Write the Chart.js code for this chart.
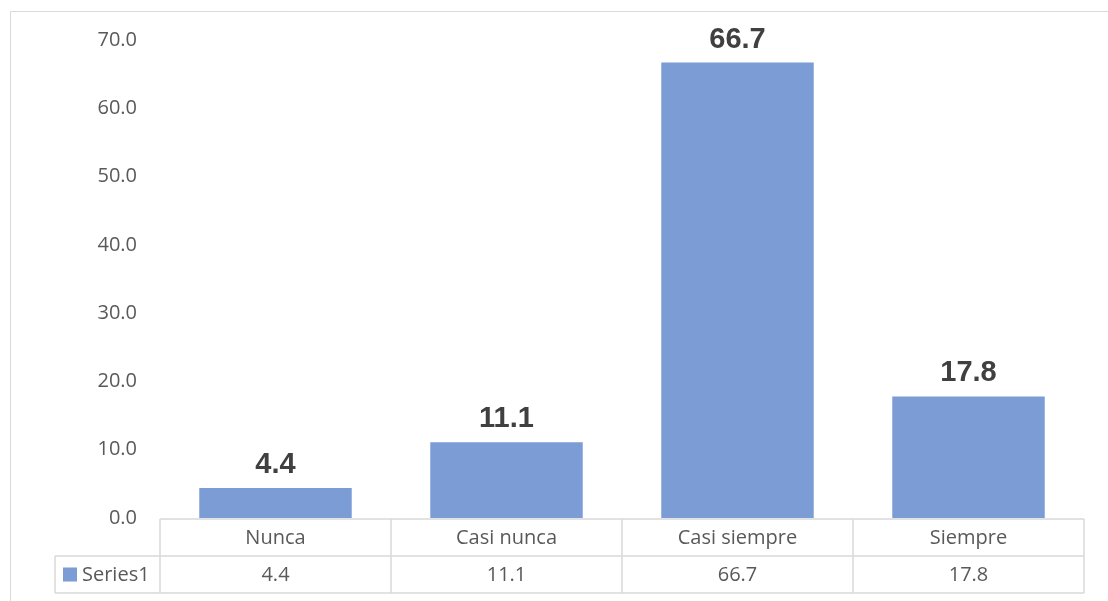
<!DOCTYPE html>
<html>
<head>
<meta charset="utf-8">
<script src="https://cdn.jsdelivr.net/npm/chart.js@4"></script>
<style>
  html, body { margin: 0; padding: 0; background: #fff; }
  #wrap { width: 1108px; height: 601px; position: relative; }
</style>
</head>
<body>
<div id="wrap"><canvas id="chart" width="1108" height="601"></canvas></div>
<script>
// chart data
var categories = ["Nunca", "Casi nunca", "Casi siempre", "Siempre"];
var seriesName = "Series1";
var seriesValues = [4.4, 11.1, 66.7, 17.8];
var yTicks = [0, 10, 20, 30, 40, 50, 60, 70];

var barColor = "#7B9CD5";
var lineColor = "#d9d9d9";
var textColor = "#595959";
var axisFont = "'Open Sans', 'Noto Sans', sans-serif";

// Outer frame + value labels + data table under the axis
var excelLook = {
  id: "excelLook",
  afterDraw: function (chart) {
    var ctx = chart.ctx;
    var area = chart.chartArea;
    var xs = chart.scales.x;
    var n = categories.length;
    var step = (area.right - area.left) / n;

    ctx.save();
    // Frame (top + left edges of the chart box)
    ctx.strokeStyle = lineColor;
    ctx.lineWidth = 1;
    ctx.beginPath();
    ctx.moveTo(10.5, chart.height);
    ctx.lineTo(10.5, 11.5);
    ctx.lineTo(chart.width, 11.5);
    ctx.stroke();

    // Value labels above the bars
    var meta = chart.getDatasetMeta(0);
    ctx.fillStyle = "#404040";
    ctx.font = "bold 29px 'Liberation Sans', Arial, sans-serif";
    ctx.textAlign = "center";
    ctx.textBaseline = "alphabetic";
    meta.data.forEach(function (bar, i) {
      ctx.fillText(seriesValues[i].toFixed(1), bar.x, bar.y - 15);
    });

    // Data table
    var top = area.bottom + 1;
    var mid = top + 37;
    var bottom = mid + 37;
    var legendLeft = 55;
    ctx.strokeStyle = lineColor;
    ctx.lineWidth = 1.5;
    ctx.beginPath();
    ctx.moveTo(area.left, top);
    ctx.lineTo(area.right, top);
    ctx.moveTo(legendLeft, mid);
    ctx.lineTo(area.right, mid);
    ctx.moveTo(legendLeft, bottom);
    ctx.lineTo(area.right, bottom);
    ctx.moveTo(legendLeft, mid);
    ctx.lineTo(legendLeft, bottom);
    for (var k = 0; k <= n; k++) {
      var lx = Math.round(area.left + step * k);
      ctx.moveTo(lx, top);
      ctx.lineTo(lx, bottom);
    }
    ctx.stroke();

    ctx.fillStyle = textColor;
    ctx.font = "20px " + axisFont;
    ctx.textAlign = "center";
    ctx.textBaseline = "middle";
    categories.forEach(function (c, i) {
      var cx = xs.getPixelForValue(i);
      ctx.fillText(c, cx, (top + mid) / 2 + 1);
      ctx.fillText(seriesValues[i].toFixed(1), cx, (mid + bottom) / 2 + 1);
    });

    // Legend key in the first cell
    var rowMid = (mid + bottom) / 2;
    ctx.fillStyle = barColor;
    ctx.fillRect(63, rowMid - 7, 14, 14);
    ctx.fillStyle = textColor;
    ctx.textAlign = "left";
    ctx.fillText(seriesName, 82, rowMid + 1);
    ctx.restore();
  }
};

new Chart(document.getElementById("chart"), {
  type: "bar",
  data: {
    labels: categories,
    datasets: [{
      label: seriesName,
      data: seriesValues,
      backgroundColor: barColor,
      borderWidth: 0,
      barPercentage: 0.66,
      categoryPercentage: 1.0
    }]
  },
  options: {
    responsive: false,
    animation: false,
    layout: { padding: { left: 10, right: 24, top: 40, bottom: 0 } },
    plugins: {
      legend: { display: false },
      tooltip: { enabled: false }
    },
    scales: {
      x: {
        grid: { display: false, drawTicks: false },
        border: { display: false },
        ticks: { display: false },
        afterFit: function (scale) { scale.height = 83; }
      },
      y: {
        min: yTicks[0],
        max: yTicks[yTicks.length - 1],
        afterBuildTicks: function (scale) {
          scale.ticks = yTicks.map(function (v) { return { value: v }; });
        },
        grid: { display: false, drawTicks: false },
        border: { display: false },
        ticks: {
          padding: 23,
          color: textColor,
          font: { family: axisFont, size: 20 },
          callback: function (v) { return Number(v).toFixed(1); }
        },
        afterFit: function (scale) { scale.width = 150; }
      }
    }
  },
  plugins: [excelLook]
});
</script>
</body>
</html>
